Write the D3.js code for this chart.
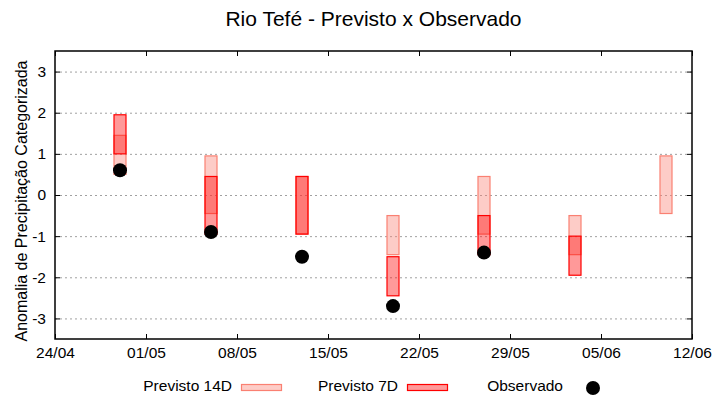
<!DOCTYPE html>
<html lang="pt">
<head>
    <meta charset="UTF-8">
    <title>Rio Tefé - Previsto x Observado</title>
    <script src="https://d3js.org/d3.v7.min.js"></script>
    <style>
        body { margin: 0; background: #fff; }
        text { font-family: "Liberation Sans", Arial, sans-serif; fill: #000; }
        .grid line { stroke: #a0a0a0; stroke-dasharray: 2,3; stroke-width: 1px; }
    </style>
</head>
<body>
    <div id="chart"></div>

    <script>
        // Dados
        const datas = ["2024-04-29", "2024-05-06", "2024-05-13", "2024-05-20", "2024-05-27", "2024-06-03", "2024-06-10"];
        const prev14Min = [0.5, -0.45, -0.95, -1.45, -0.95, -1.45, -0.45];
        const prev14Max = [1.45, 0.95, 0.45, -0.5, 0.45, -0.5, 0.95];
        const prev7Min = [1.0, -0.95, -0.95, -2.45, -1.45, -1.95, null];
        const prev7Max = [1.95, 0.45, 0.45, -1.5, -0.5, -1.0, null];
        const observado = [0.6, -0.9, -1.5, -2.7, -1.4, null, null];
        const xTicks = ["2024-04-24", "2024-05-01", "2024-05-08", "2024-05-15", "2024-05-22", "2024-05-29", "2024-06-05", "2024-06-12"];
        const yTicks = [-3, -2, -1, 0, 1, 2, 3];

        const width = 720, height = 400;
        const margin = {top: 51, right: 28, bottom: 61, left: 55};

        const svg = d3.select("#chart").append("svg")
            .attr("width", width)
            .attr("height", height);

        const parse = d3.utcParse("%Y-%m-%d");
        const fmt = d3.utcFormat("%d/%m");

        const x = d3.scaleUtc()
            .domain([parse(xTicks[0]), parse(xTicks[xTicks.length - 1])])
            .range([margin.left, width - margin.right]);
        const y = d3.scaleLinear()
            .domain([-3.5, 3.5])
            .range([height - margin.bottom, margin.top]);

        const boxW = 12;

        // Grade horizontal
        svg.append("g").attr("class", "grid")
            .selectAll("line").data(yTicks).join("line")
            .attr("x1", margin.left).attr("x2", width - margin.right)
            .attr("y1", d => y(d) + 0.5).attr("y2", d => y(d) + 0.5);

        // Eixos (ticks para dentro, espelhados)
        svg.append("g")
            .attr("transform", `translate(0,${height - margin.bottom})`)
            .call(d3.axisBottom(x).tickValues(xTicks.map(parse)).tickFormat(fmt).tickSizeInner(-5).tickSizeOuter(0).tickPadding(8))
            .call(g => g.select(".domain").remove())
            .call(g => g.selectAll("text").attr("font-size", 15.5).attr("font-family", "Liberation Sans"));
        svg.append("g")
            .attr("transform", `translate(0,${margin.top})`)
            .call(d3.axisTop(x).tickValues(xTicks.map(parse)).tickFormat("").tickSizeInner(-5).tickSizeOuter(0))
            .call(g => g.select(".domain").remove());
        svg.append("g")
            .attr("transform", `translate(${margin.left},0)`)
            .call(d3.axisLeft(y).tickValues(yTicks).tickFormat(d => String(d)).tickSizeInner(-5).tickSizeOuter(0).tickPadding(9))
            .call(g => g.select(".domain").remove())
            .call(g => g.selectAll("text").attr("font-size", 15.5).attr("font-family", "Liberation Sans"));
        svg.append("g")
            .attr("transform", `translate(${width - margin.right},0)`)
            .call(d3.axisRight(y).tickValues(yTicks).tickFormat("").tickSizeInner(-5).tickSizeOuter(0))
            .call(g => g.select(".domain").remove());

        // Borda
        svg.append("rect")
            .attr("x", margin.left).attr("y", margin.top)
            .attr("width", width - margin.left - margin.right)
            .attr("height", height - margin.top - margin.bottom)
            .attr("fill", "none").attr("stroke", "#000").attr("stroke-width", 1.5);

        const idx = d3.range(datas.length);

        // Previsto 14D
        svg.append("g").selectAll("rect")
            .data(idx.filter(i => prev14Min[i] != null)).join("rect")
            .attr("x", i => x(parse(datas[i])) - boxW / 2)
            .attr("width", boxW)
            .attr("y", i => y(prev14Max[i]))
            .attr("height", i => y(prev14Min[i]) - y(prev14Max[i]))
            .attr("fill", "salmon").attr("fill-opacity", 0.4)
            .attr("stroke", "salmon").attr("stroke-width", 1.2);

        // Previsto 7D
        svg.append("g").selectAll("rect")
            .data(idx.filter(i => prev7Min[i] != null)).join("rect")
            .attr("x", i => x(parse(datas[i])) - boxW / 2)
            .attr("width", boxW)
            .attr("y", i => y(prev7Max[i]))
            .attr("height", i => y(prev7Min[i]) - y(prev7Max[i]))
            .attr("fill", "red").attr("fill-opacity", 0.4)
            .attr("stroke", "red").attr("stroke-width", 1.2);

        // Observado
        svg.append("g").selectAll("circle")
            .data(idx.filter(i => observado[i] != null)).join("circle")
            .attr("cx", i => x(parse(datas[i])))
            .attr("cy", i => y(observado[i]))
            .attr("r", 7)
            .attr("fill", "#000");

        // Título
        svg.append("text")
            .attr("x", (margin.left + width - margin.right) / 2)
            .attr("y", 26)
            .attr("text-anchor", "middle")
            .attr("font-size", 21)
            .text("Rio Tefé - Previsto x Observado");

        // Rótulo do eixo y
        svg.append("text")
            .attr("transform", `translate(27,201) rotate(-90)`)
            .attr("text-anchor", "middle")
            .attr("font-size", 16)
            .text("Anomalia de Precipitação Categorizada");

        // Legenda
        const leg = svg.append("g").attr("font-size", 15.5);
        leg.append("text").attr("x", 232).attr("y", 391).attr("text-anchor", "end").text("Previsto 14D");
        leg.append("rect").attr("x", 241.5).attr("y", 384.5).attr("width", 40).attr("height", 6)
            .attr("fill", "salmon").attr("fill-opacity", 0.4).attr("stroke", "salmon").attr("stroke-width", 1.2);
        leg.append("text").attr("x", 398).attr("y", 391).attr("text-anchor", "end").text("Previsto 7D");
        leg.append("rect").attr("x", 407.5).attr("y", 384.5).attr("width", 40).attr("height", 6)
            .attr("fill", "red").attr("fill-opacity", 0.4).attr("stroke", "red").attr("stroke-width", 1.2);
        leg.append("text").attr("x", 563).attr("y", 391).attr("text-anchor", "end").text("Observado");
        leg.append("circle").attr("cx", 593).attr("cy", 388).attr("r", 7).attr("fill", "#000");
    </script>
</body>
</html>
